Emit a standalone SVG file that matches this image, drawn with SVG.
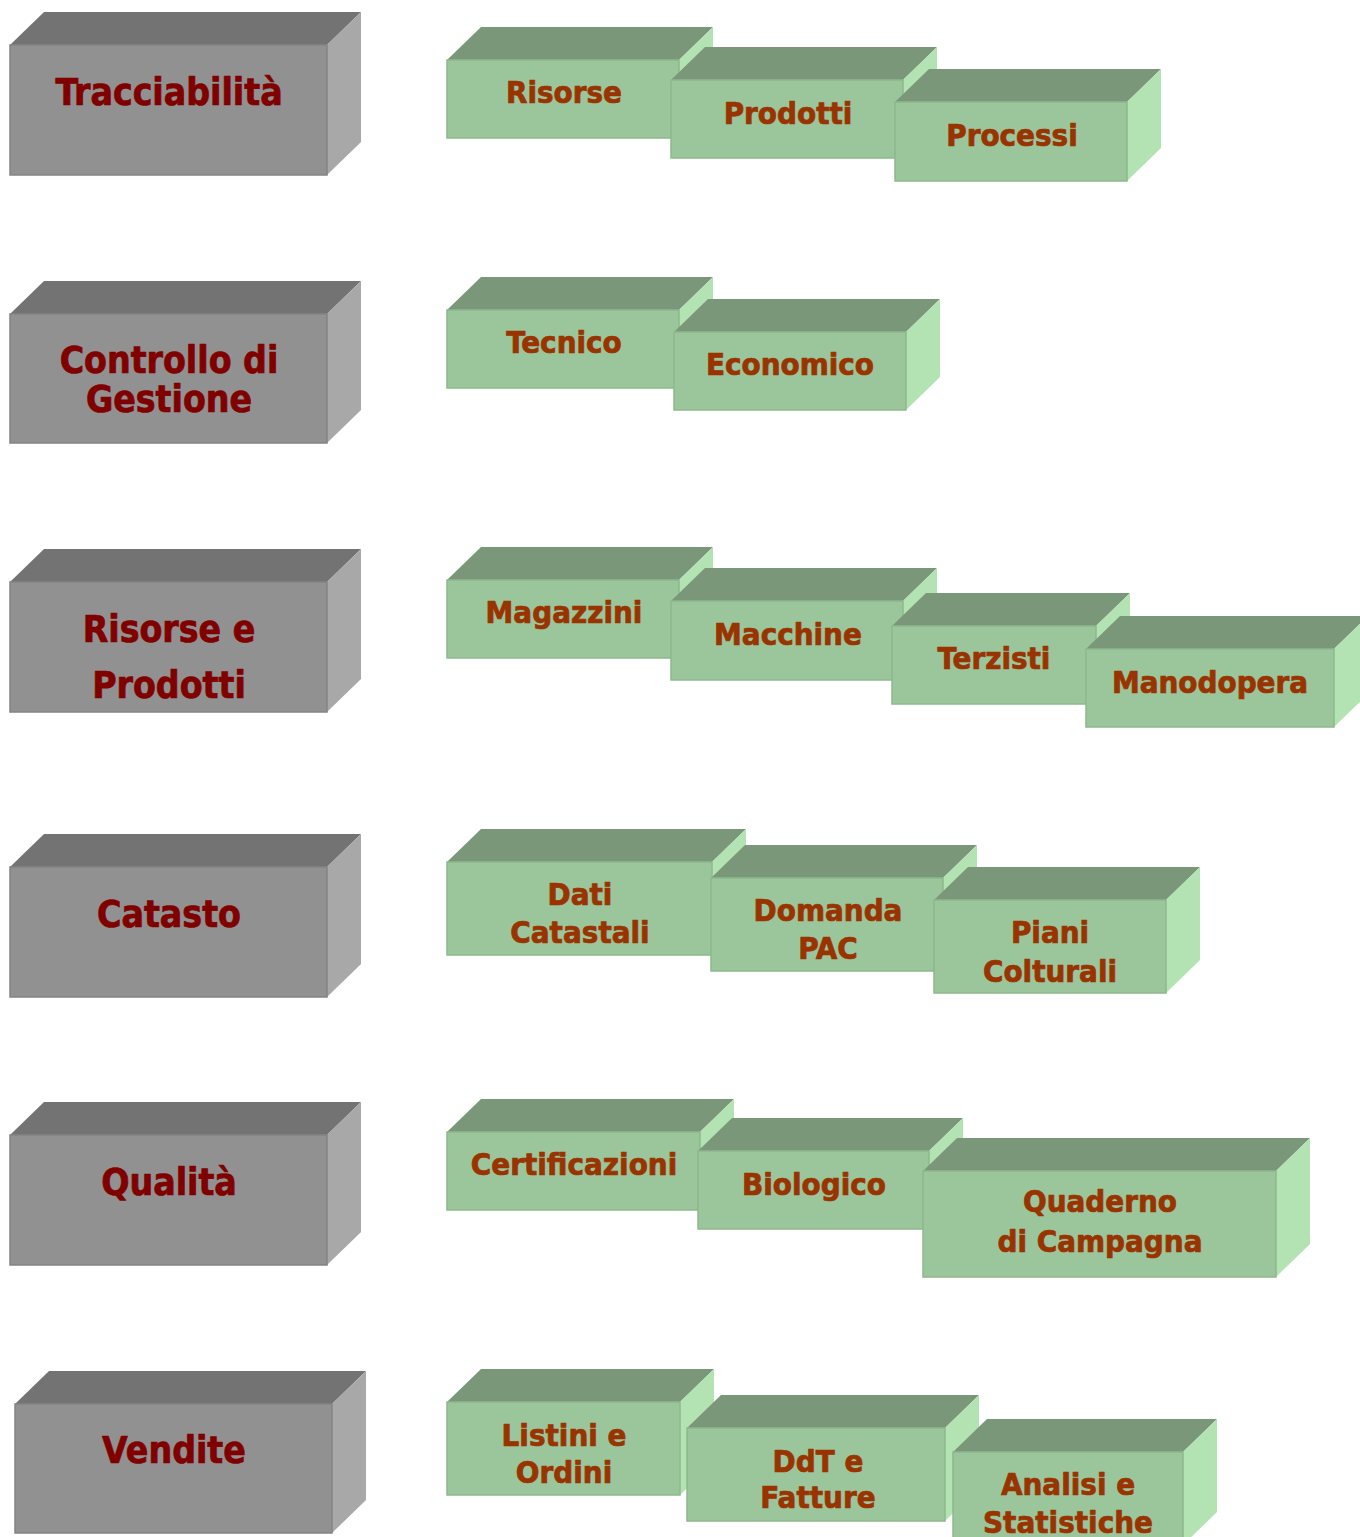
<svg xmlns="http://www.w3.org/2000/svg" width="1360" height="1537" viewBox="0 0 1360 1537">
<style>
.gf{fill:#919191;stroke:#848484;stroke-width:1.5}
.gt{fill:#737373}
.gs{fill:#A8A8A8}
.nf{fill:#9BC59B;stroke:#8DB88D;stroke-width:1.5}
.nt{fill:#7A977A}
.ns{fill:#B3E2B3}
text{font-family:"DejaVu Sans Condensed","DejaVu Sans",sans-serif;font-stretch:condensed;font-weight:bold;text-anchor:middle;stroke-width:0.7px;stroke-linejoin:round}
.gl{fill:#800000;stroke:#800000;font-size:37px}
.nl{fill:#993300;stroke:#993300;font-size:31px}
</style>
<rect width="1360" height="1537" fill="#FFFFFF"/>
<g id="connectors"/>
<g id="tracciabilita">
<polygon class="gt" points="10,45 44,12 361,12 327,45"/><polygon class="gs" points="327,45 361,12 361,142 327,175"/><rect class="gf" x="10" y="45" width="317" height="130"/>
<text class="gl" x="169" y="105">Tracciabilità</text>
</g>
<g id="controllo">
<polygon class="gt" points="10,314 44,281 361,281 327,314"/><polygon class="gs" points="327,314 361,281 361,410 327,443"/><rect class="gf" x="10" y="314" width="317" height="129"/>
<text class="gl" x="169" y="373">Controllo di</text><text class="gl" x="169" y="412">Gestione</text>
</g>
<g id="risorse-prodotti">
<polygon class="gt" points="10,582 44,549 361,549 327,582"/><polygon class="gs" points="327,582 361,549 361,679 327,712"/><rect class="gf" x="10" y="582" width="317" height="130"/>
<text class="gl" x="169" y="642">Risorse e</text><text class="gl" x="169" y="698">Prodotti</text>
</g>
<g id="catasto">
<polygon class="gt" points="10,867 44,834 361,834 327,867"/><polygon class="gs" points="327,867 361,834 361,964 327,997"/><rect class="gf" x="10" y="867" width="317" height="130"/>
<text class="gl" x="169" y="927">Catasto</text>
</g>
<g id="qualita">
<polygon class="gt" points="10,1135 44,1102 361,1102 327,1135"/><polygon class="gs" points="327,1135 361,1102 361,1232 327,1265"/><rect class="gf" x="10" y="1135" width="317" height="130"/>
<text class="gl" x="169" y="1195">Qualità</text>
</g>
<g id="vendite">
<polygon class="gt" points="15,1404 49,1371 366,1371 332,1404"/><polygon class="gs" points="332,1404 366,1371 366,1500 332,1533"/><rect class="gf" x="15" y="1404" width="317" height="129"/>
<text class="gl" x="174" y="1463">Vendite</text>
</g>

<g id="t-risorse">
<polygon class="nt" points="447,60 481,27 713,27 679,60"/><polygon class="ns" points="679,60 713,27 713,105 679,138"/><rect class="nf" x="447" y="60" width="232" height="78"/>
<text class="nl" x="564" y="103">Risorse</text>
</g>
<g id="t-prodotti">
<polygon class="nt" points="671,80 705,47 937,47 903,80"/><polygon class="ns" points="903,80 937,47 937,125 903,158"/><rect class="nf" x="671" y="80" width="232" height="78"/>
<text class="nl" x="788" y="124">Prodotti</text>
</g>
<g id="t-processi">
<polygon class="nt" points="895,102 929,69 1161,69 1127,102"/><polygon class="ns" points="1127,102 1161,69 1161,148 1127,181"/><rect class="nf" x="895" y="102" width="232" height="79"/>
<text class="nl" x="1012" y="146">Processi</text>
</g>

<g id="c-tecnico">
<polygon class="nt" points="447,310 481,277 713,277 679,310"/><polygon class="ns" points="679,310 713,277 713,355 679,388"/><rect class="nf" x="447" y="310" width="232" height="78"/>
<text class="nl" x="564" y="353">Tecnico</text>
</g>
<g id="c-economico">
<polygon class="nt" points="674,332 708,299 940,299 906,332"/><polygon class="ns" points="906,332 940,299 940,377 906,410"/><rect class="nf" x="674" y="332" width="232" height="78"/>
<text class="nl" x="790" y="375">Economico</text>
</g>

<g id="r-magazzini">
<polygon class="nt" points="447,580 481,547 713,547 679,580"/><polygon class="ns" points="679,580 713,547 713,625 679,658"/><rect class="nf" x="447" y="580" width="232" height="78"/>
<text class="nl" x="564" y="623">Magazzini</text>
</g>
<g id="r-macchine">
<polygon class="nt" points="671,601 705,568 937,568 903,601"/><polygon class="ns" points="903,601 937,568 937,647 903,680"/><rect class="nf" x="671" y="601" width="232" height="79"/>
<text class="nl" x="788" y="645">Macchine</text>
</g>
<g id="r-terzisti">
<polygon class="nt" points="892,626 926,593 1130,593 1096,626"/><polygon class="ns" points="1096,626 1130,593 1130,671 1096,704"/><rect class="nf" x="892" y="626" width="204" height="78"/>
<text class="nl" x="994" y="669">Terzisti</text>
</g>
<g id="r-manodopera">
<polygon class="nt" points="1086,649 1120,616 1368,616 1334,649"/><polygon class="ns" points="1334,649 1368,616 1368,694 1334,727"/><rect class="nf" x="1086" y="649" width="248" height="78"/>
<text class="nl" x="1210" y="693">Manodopera</text>
</g>

<g id="k-dati">
<polygon class="nt" points="447,862 481,829 746,829 712,862"/><polygon class="ns" points="712,862 746,829 746,922 712,955"/><rect class="nf" x="447" y="862" width="265" height="93"/>
<text class="nl" x="580" y="905">Dati</text><text class="nl" x="580" y="943">Catastali</text>
</g>
<g id="k-domanda">
<polygon class="nt" points="711,878 745,845 977,845 943,878"/><polygon class="ns" points="943,878 977,845 977,938 943,971"/><rect class="nf" x="711" y="878" width="232" height="93"/>
<text class="nl" x="828" y="921">Domanda</text><text class="nl" x="828" y="959">PAC</text>
</g>
<g id="k-piani">
<polygon class="nt" points="934,900 968,867 1200,867 1166,900"/><polygon class="ns" points="1166,900 1200,867 1200,960 1166,993"/><rect class="nf" x="934" y="900" width="232" height="93"/>
<text class="nl" x="1050" y="943">Piani</text><text class="nl" x="1050" y="982">Colturali</text>
</g>

<g id="q-certificazioni">
<polygon class="nt" points="447,1132 481,1099 734,1099 700,1132"/><polygon class="ns" points="700,1132 734,1099 734,1177 700,1210"/><rect class="nf" x="447" y="1132" width="253" height="78"/>
<text class="nl" x="574" y="1175">Certificazioni</text>
</g>
<g id="q-biologico">
<polygon class="nt" points="698,1151 732,1118 963,1118 929,1151"/><polygon class="ns" points="929,1151 963,1118 963,1196 929,1229"/><rect class="nf" x="698" y="1151" width="231" height="78"/>
<text class="nl" x="814" y="1195">Biologico</text>
</g>
<g id="q-quaderno">
<polygon class="nt" points="923,1171 957,1138 1310,1138 1276,1171"/><polygon class="ns" points="1276,1171 1310,1138 1310,1244 1276,1277"/><rect class="nf" x="923" y="1171" width="353" height="106"/>
<text class="nl" x="1100" y="1212">Quaderno</text><text class="nl" x="1100" y="1252">di Campagna</text>
</g>

<g id="v-listini">
<polygon class="nt" points="447,1402 481,1369 714,1369 680,1402"/><polygon class="ns" points="680,1402 714,1369 714,1462 680,1495"/><rect class="nf" x="447" y="1402" width="233" height="93"/>
<text class="nl" x="564" y="1446">Listini e</text><text class="nl" x="564" y="1483">Ordini</text>
</g>
<g id="v-ddt">
<polygon class="nt" points="687,1428 721,1395 979,1395 945,1428"/><polygon class="ns" points="945,1428 979,1395 979,1488 945,1521"/><rect class="nf" x="687" y="1428" width="258" height="93"/>
<text class="nl" x="818" y="1472">DdT e</text><text class="nl" x="818" y="1508">Fatture</text>
</g>
<g id="v-analisi">
<polygon class="nt" points="953,1452 987,1419 1217,1419 1183,1452"/><polygon class="ns" points="1183,1452 1217,1419 1217,1512 1183,1545"/><rect class="nf" x="953" y="1452" width="230" height="93"/>
<text class="nl" x="1068" y="1495">Analisi e</text><text class="nl" x="1068" y="1533">Statistiche</text>
</g>
</svg>
